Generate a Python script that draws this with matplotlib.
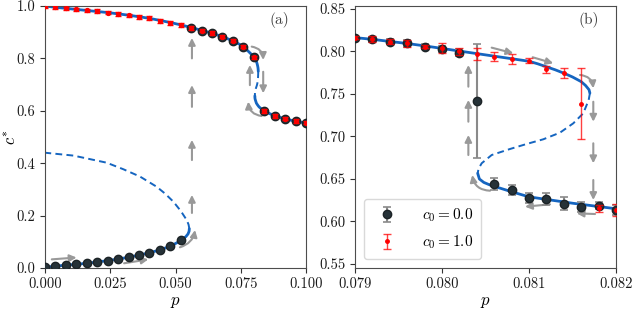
import matplotlib
matplotlib.use("Agg")
import matplotlib.pyplot as plt
from matplotlib.ticker import FormatStrFormatter, MultipleLocator

plt.rcParams['font.family'] = 'serif'
plt.rcParams['font.serif'] = ['cmr10', 'DejaVu Serif']
plt.rcParams['mathtext.fontset'] = 'cm'
plt.rcParams['axes.formatter.use_mathtext'] = True
plt.rcParams['axes.unicode_minus'] = False

# ---------------- theory curve ----------------
# upper stable branch
up_p = [0.0, 0.004, 0.008, 0.012, 0.016, 0.020, 0.024, 0.028, 0.032, 0.036, 0.040,
        0.044, 0.048, 0.052, 0.056, 0.060, 0.064, 0.068, 0.072, 0.076, 0.0790,
        0.0792, 0.0794, 0.0796, 0.0798, 0.0800, 0.0802, 0.0804, 0.0806, 0.0808,
        0.0810, 0.0811, 0.0812, 0.0813, 0.0814, 0.0815, 0.0816, 0.08165, 0.08169, 0.08170]
up_c = [1.000, 0.995, 0.991, 0.987, 0.983, 0.979, 0.975, 0.970, 0.965, 0.959, 0.953,
        0.945, 0.937, 0.928, 0.918, 0.907, 0.896, 0.883, 0.867, 0.846, 0.8163,
        0.8143, 0.8118, 0.8094, 0.8066, 0.8036, 0.8005, 0.7975, 0.7945, 0.7915,
        0.7885, 0.7855, 0.7820, 0.7785, 0.7745, 0.7700, 0.7645, 0.7600, 0.7550, 0.7510]
# middle unstable branch (dashed)
mid_p = [0.08170, 0.081686, 0.081624, 0.081509, 0.081356, 0.081164, 0.080973,
         0.080782, 0.080571, 0.080456, 0.08042, 0.08041]
mid_c = [0.7510, 0.7429, 0.7273, 0.7155, 0.7045, 0.6967, 0.6912,
         0.6853, 0.6782, 0.6685, 0.6620, 0.6567]
# lower-right stable branch
lo_p = [0.08041, 0.08043, 0.08048, 0.08055, 0.08080, 0.08100, 0.08150, 0.08200,
        0.084, 0.088, 0.092, 0.096, 0.100]
lo_c = [0.6567, 0.6500, 0.6460, 0.6430, 0.6350, 0.6290, 0.6215, 0.6150,
        0.598, 0.581, 0.569, 0.560, 0.553]
# lower-left stable branch
ll_p = [0.0, 0.004, 0.008, 0.012, 0.016, 0.020, 0.024, 0.028, 0.032, 0.036, 0.040,
        0.044, 0.048, 0.052, 0.054, 0.0548, 0.0552, 0.0553]
ll_c = [0.003, 0.007, 0.011, 0.014, 0.018, 0.023, 0.028, 0.034, 0.041, 0.049, 0.058,
        0.069, 0.083, 0.104, 0.120, 0.130, 0.140, 0.150]
# lower-left unstable branch (dashed)
lu_p = [0.0553, 0.0550, 0.0543, 0.0520, 0.0492, 0.0460, 0.0428, 0.0364, 0.0300,
        0.0236, 0.0109, 0.0]
lu_c = [0.150, 0.166, 0.183, 0.218, 0.253, 0.284, 0.310, 0.349, 0.377,
        0.402, 0.429, 0.440]

# ---------------- simulation data, panel (a) ----------------
pa = [0.000, 0.004, 0.008, 0.012, 0.016, 0.020, 0.024, 0.028, 0.032, 0.036, 0.040,
      0.044, 0.048, 0.052, 0.056, 0.060, 0.064, 0.068, 0.072, 0.076, 0.080,
      0.084, 0.088, 0.092, 0.096, 0.100]
ca_0 = [0.003, 0.008, 0.011, 0.014, 0.018, 0.022, 0.028, 0.034, 0.042, 0.050, 0.059,
        0.070, 0.084, 0.107, 0.917, 0.906, 0.896, 0.883, 0.868, 0.845, 0.804,
        0.598, 0.580, 0.570, 0.560, 0.555]
ca_1 = [1.000, 0.995, 0.991, 0.987, 0.983, 0.980, 0.975, 0.969, 0.964, 0.959, 0.953,
        0.944, 0.936, 0.927, 0.917, 0.906, 0.896, 0.883, 0.868, 0.845, 0.804,
        0.598, 0.580, 0.570, 0.560, 0.555]
ea_1 = [0.007] * 26

# ---------------- simulation data, panel (b) ----------------
pb = [0.0790, 0.0792, 0.0794, 0.0796, 0.0798, 0.0800, 0.0802, 0.0804,
      0.0806, 0.0808, 0.0810, 0.0812, 0.0814, 0.0816, 0.0818, 0.0820]
cb_0 = [0.8162, 0.8143, 0.8115, 0.8096, 0.8057, 0.8029, 0.7986, 0.7418,
        0.6437, 0.6367, 0.6273, 0.6261, 0.6210, 0.6175, 0.6186, 0.6135]
eb_0 = [0.002, 0.003, 0.003, 0.004, 0.003, 0.004, 0.004, 0.0673,
        0.007, 0.006, 0.006, 0.007, 0.008, 0.006, 0.004, 0.006]
cb_1 = [0.8162, 0.8147, 0.8115, 0.8096, 0.8057, 0.8045, 0.8000, 0.7970,
        0.7939, 0.7908, 0.7892, 0.7790, 0.7743, 0.7386, 0.6155, 0.6135]
eb_1 = [0.002, 0.003, 0.003, 0.004, 0.002, 0.006, 0.004, 0.007,
        0.005, 0.006, 0.003, 0.004, 0.006, 0.0416, 0.004, 0.007]

labels = [r'$c_0 = 0.0$', r'$c_0 = 1.0$']

BLUE = '#1565c0'
DARK = '#263238'
GRAY = '#999999'

fig = plt.figure(figsize=(6.34, 3.09), dpi=100)
axa = fig.add_axes([45/634, 41/309, 261/634, 262/309])
axb = fig.add_axes([355/634, 41/309, 261/634, 262/309])


def theory(ax):
    ax.plot(up_p, up_c, color=BLUE, lw=2.0, zorder=2, solid_capstyle='round')
    ax.plot(lo_p, lo_c, color=BLUE, lw=2.0, zorder=2, solid_capstyle='round')
    ax.plot(ll_p, ll_c, color=BLUE, lw=2.0, zorder=2, solid_capstyle='round')
    ax.plot(mid_p, mid_c, color=BLUE, lw=1.4, ls=(0, (3.5, 2.2)), zorder=2)
    ax.plot(lu_p, lu_c, color=BLUE, lw=1.4, ls=(0, (3.5, 2.2)), zorder=2)


def arrow(ax, tail, head, rad=0.0):
    ax.annotate('', xy=head, xytext=tail,
                arrowprops=dict(arrowstyle='-|>', color=GRAY, lw=1.5,
                                mutation_scale=10, shrinkA=0, shrinkB=0,
                                connectionstyle='arc3,rad=%g' % rad),
                zorder=1.5)


def style(ax):
    for s in ax.spines.values():
        s.set_color('0.3')
        s.set_linewidth(0.8)
    ax.tick_params(direction='out', length=3.5, width=0.8, colors='0.2',
                   labelsize=10.5, labelcolor='0.1')


# ---------- panel (a) ----------
theory(axa)
axa.plot(pa, ca_0, 'o', color=DARK, ms=6, mec='#1c2326', zorder=3)
axa.errorbar(pa, ca_1, yerr=ea_1, fmt='o', color='red', ms=2.8, ecolor='red',
             elinewidth=1.0, capsize=2, capthick=1.0, zorder=4)
for c0, c1 in [(0.21, 0.279), (0.412, 0.489), (0.615, 0.698), (0.80, 0.878)]:
    arrow(axa, (0.0563, c0), (0.0563, c1))
arrow(axa, (0.0026, 0.033), (0.0121, 0.040))
arrow(axa, (0.0303, 0.018), (0.0396, 0.033))
arrow(axa, (0.0517, 0.079), (0.0575, 0.145), rad=0.3)
arrow(axa, (0.0792, 0.845), (0.0836, 0.794), rad=-0.4)
arrow(axa, (0.0836, 0.749), (0.0836, 0.667))
arrow(axa, (0.0785, 0.698), (0.0785, 0.775))
arrow(axa, (0.0830, 0.580), (0.0779, 0.635), rad=-0.4)
axa.set_xlim(0, 0.1)
axa.set_ylim(0, 1.0)
axa.xaxis.set_major_locator(MultipleLocator(0.025))
axa.yaxis.set_major_locator(MultipleLocator(0.2))
axa.xaxis.set_major_formatter(FormatStrFormatter('%.3f'))
axa.yaxis.set_major_formatter(FormatStrFormatter('%.1f'))
axa.set_xlabel(r'$p$', fontsize=12, labelpad=2)
axa.set_ylabel(r'$c^{*}$', fontsize=12)
axa.yaxis.set_label_coords(-0.102, 0.5)
axa.text(0.935, 0.945, '(a)', transform=axa.transAxes, ha='right', va='center',
         fontsize=11, color='0.25')
style(axa)

# ---------- panel (b) ----------
theory(axb)
axb.errorbar(pb, cb_0, yerr=eb_0, fmt='o', color=DARK, ms=6, mec='#1c2326',
             ecolor='#8a8a8a', elinewidth=1.5, capsize=3, capthick=1.2,
             zorder=3, label=labels[0])
axb.errorbar(pb, cb_1, yerr=eb_1, fmt='o', color='red', ms=2.5,
             ecolor=(1, 0, 0, 0.75), elinewidth=1.0, capsize=3, capthick=1.0,
             zorder=4, label=labels[1])
for c0, c1 in [(0.6782, 0.7018), (0.7174, 0.7430), (0.7586, 0.7841)]:
    arrow(axb, (0.080303, c0), (0.080303, c1))
arrow(axb, (0.080571, 0.8045), (0.080820, 0.7979))
arrow(axb, (0.081042, 0.7932), (0.081279, 0.7861))
arrow(axb, (0.081586, 0.7724), (0.081739, 0.7567), rad=-0.4)
for c0, c1 in [(0.7409, 0.7174), (0.6920, 0.6685), (0.6488, 0.6253)]:
    arrow(axb, (0.081739, c0), (0.081739, c1))
arrow(axb, (0.081759, 0.6088), (0.081548, 0.6096))
arrow(axb, (0.081241, 0.6202), (0.080954, 0.6174))
arrow(axb, (0.080552, 0.6362), (0.080348, 0.6547), rad=-0.4)
axb.set_xlim(0.079, 0.082)
axb.set_ylim(0.5453, 0.8535)
axb.xaxis.set_major_locator(MultipleLocator(0.001))
axb.yaxis.set_major_locator(MultipleLocator(0.05))
axb.xaxis.set_major_formatter(FormatStrFormatter('%.3f'))
axb.yaxis.set_major_formatter(FormatStrFormatter('%.2f'))
axb.set_xlabel(r'$p$', fontsize=12, labelpad=2)
axb.text(0.935, 0.945, '(b)', transform=axb.transAxes, ha='right', va='center',
         fontsize=11, color='0.25')
leg = axb.legend(loc='lower left', fontsize=11, handletextpad=1.3,
                 labelspacing=0.6, borderaxespad=0.6, framealpha=1,
                 edgecolor='0.85', fancybox=True, borderpad=0.5)
style(axb)

fig.savefig('out.png', dpi=100)
